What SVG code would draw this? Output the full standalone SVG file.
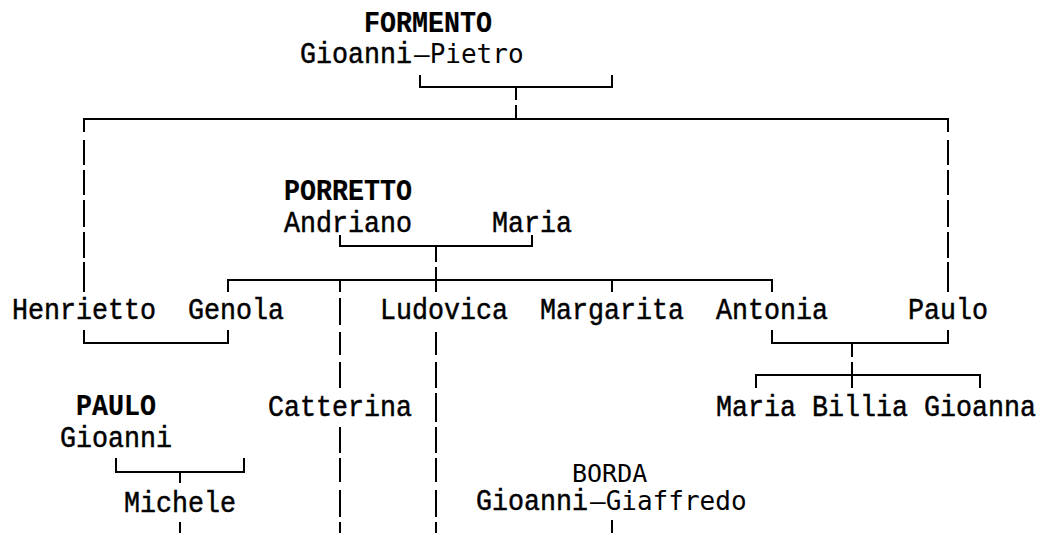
<svg xmlns="http://www.w3.org/2000/svg" width="1038" height="533" viewBox="0 0 1038 533">
<style>
.t{font-family:"Liberation Mono","DejaVu Sans Mono",monospace;font-size:30px;fill:#000;stroke:#000;stroke-width:0.5}
.b{font-weight:bold;stroke-width:0.2}
.d{font-family:"DejaVu Sans Mono","Liberation Mono",monospace;font-size:26px;fill:#000}
.s{font-family:"DejaVu Sans Mono","Liberation Mono",monospace;font-size:25px;fill:#000}
.c{fill:none;stroke:#000;stroke-width:2}
</style>
<rect width="1038" height="533" fill="#fff"/>
<g id="connectors" class="c">
<path d="M420,75V87H612V75"/>
<path d="M516,88V100M516,105V119"/>
<path d="M84,132V119H948V132"/>
<path d="M84,140V165M84,170V195M84,200V227M84,232V258M84,262V292"/>
<path d="M948,140V165M948,170V195M948,200V227M948,232V258M948,262V292"/>
<path d="M340,235V246H532V235"/>
<path d="M436,246V262M436,267V292"/>
<path d="M228,292V280H772V292M340,280V292M612,280V292"/>
<path d="M340,298V325M340,332V355M340,362V388M340,427V453M340,458V482M340,490V517M340,522V533"/>
<path d="M436,332V355M436,362V388M436,393V422M436,427V453M436,458V482M436,490V517M436,522V533"/>
<path d="M84,330V343H228V330"/>
<path d="M772,330V343H948V330"/>
<path d="M852,343V357M852,362V388"/>
<path d="M756,388V375H980V388"/>
<path d="M116,458V472H244V458"/>
<path d="M180,472V483M180,522V533"/>
<path d="M612,520V533"/>
</g>
<g id="formento">
<text class="t b" transform="scale(0.8889,1)" x="409.5" y="32">FORMENTO</text>
<text class="t" transform="scale(0.8889,1)" x="337.5" y="63">Gioanni</text>
<text class="d" x="414" y="63">—Pietro</text>
</g>
<g id="porretto">
<text class="t b" transform="scale(0.8889,1)" x="319.5" y="200">PORRETTO</text>
<text class="t" transform="scale(0.8889,1)" x="319.5" y="232">Andriano</text>
<text class="t" transform="scale(0.8889,1)" x="553.5" y="232">Maria</text>
</g>
<g id="henrietto"><text class="t" transform="scale(0.8889,1)" x="13.5" y="319">Henrietto</text></g>
<g id="genola"><text class="t" transform="scale(0.8889,1)" x="211.5" y="319">Genola</text></g>
<g id="ludovica"><text class="t" transform="scale(0.8889,1)" x="427.5" y="319">Ludovica</text></g>
<g id="margarita"><text class="t" transform="scale(0.8889,1)" x="607.5" y="319">Margarita</text></g>
<g id="antonia"><text class="t" transform="scale(0.8889,1)" x="805.5" y="319">Antonia</text></g>
<g id="paulo"><text class="t" transform="scale(0.8889,1)" x="1021.5" y="319">Paulo</text></g>
<g id="catterina"><text class="t" transform="scale(0.8889,1)" x="301.5" y="416">Catterina</text></g>
<g id="grandchildren"><text class="t" transform="scale(0.8889,1)" x="805.5" y="416">Maria Billia Gioanna</text></g>
<g id="paulo-gioanni">
<text class="t b" transform="scale(0.8889,1)" x="85.5" y="415">PAULO</text>
<text class="t" transform="scale(0.8889,1)" x="67.5" y="447">Gioanni</text>
</g>
<g id="michele"><text class="t" transform="scale(0.8889,1)" x="139.5" y="512">Michele</text></g>
<g id="borda">
<text class="s" x="572" y="482">BORDA</text>
<text class="t" transform="scale(0.8889,1)" x="535.5" y="510">Gioanni</text>
<text class="d" x="590" y="510">—Giaffredo</text>
</g>
</svg>
